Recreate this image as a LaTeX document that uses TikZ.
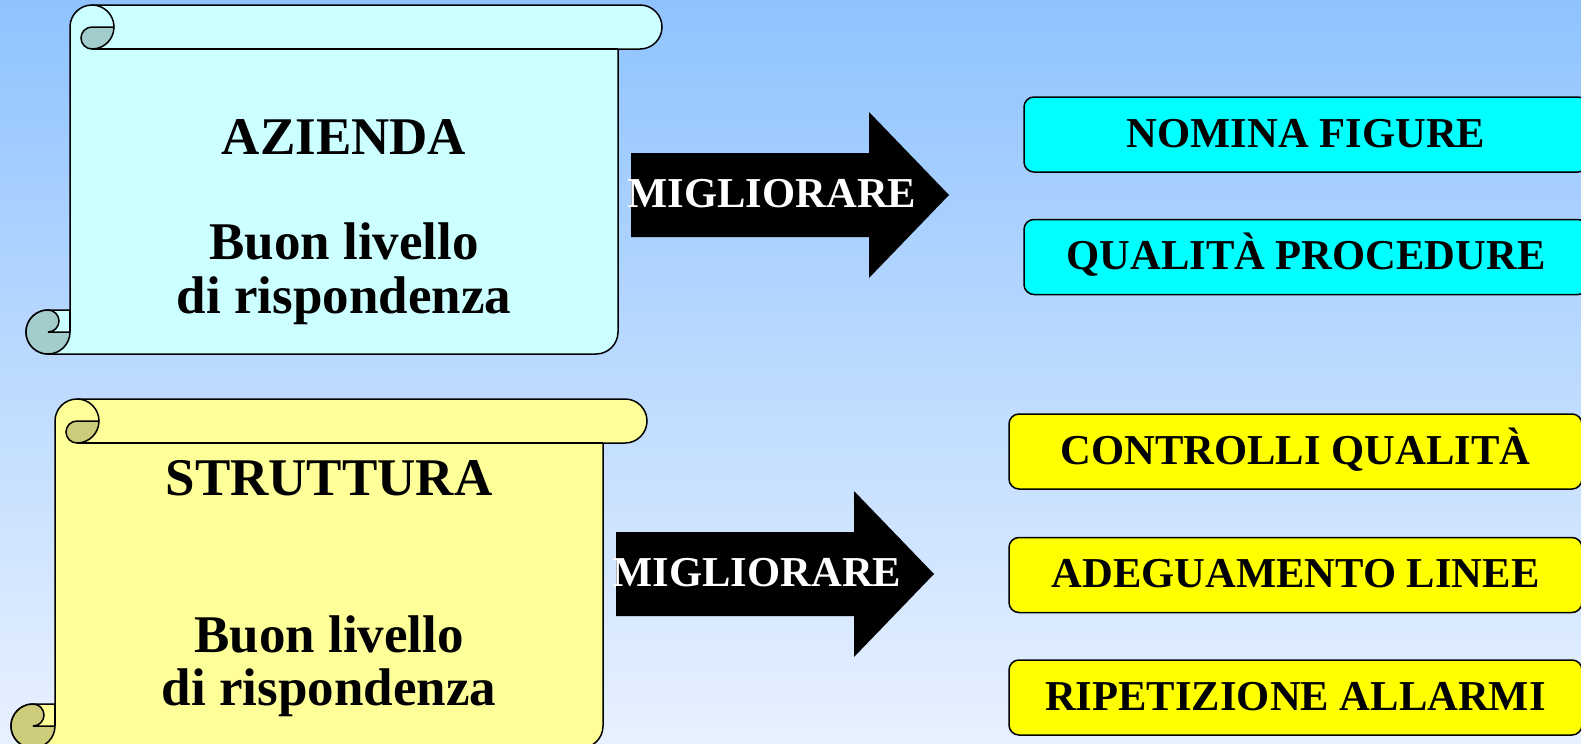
\documentclass[tikz,border=0pt]{standalone}
\usepackage{fontspec}
\setmainfont{Liberation Serif}
\usetikzlibrary{positioning}

\definecolor{skytop}{RGB}{143,195,255}
\definecolor{skybot}{RGB}{232,241,255}
\definecolor{paperblue}{RGB}{204,255,255}
\definecolor{rollblue}{RGB}{163,204,204}
\definecolor{paperyel}{RGB}{255,255,153}
\definecolor{rollyel}{RGB}{204,204,122}
\definecolor{boxcyan}{RGB}{0,255,255}
\definecolor{boxyel}{RGB}{255,255,0}

% scroll: #1 origin, #2 paper colour, #3 roll colour
\newcommand{\pergamena}[3]{%
\begin{scope}[shift={#1}]
\filldraw[fill=#2] (44,305) -- (44,22) arc[start angle=180,end angle=270,radius=22] -- (614,0)
  arc[start angle=-90,end angle=90,radius=22] -- (592,44) -- (592,327)
  arc[start angle=0,end angle=90,radius=22] -- (22,349)
  arc[start angle=90,end angle=270,radius=22] -- cycle;
%% rotolo alto
\filldraw[fill=#3] (88,22) arc[start angle=0,end angle=90,radius=22]
  arc[start angle=90,end angle=270,radius=11] -- cycle;
\draw (66,0) arc[start angle=-90,end angle=0,radius=22];
\draw (592,44) -- (66,44);
%% rotolo basso
\filldraw[fill=#3] (22,305) arc[start angle=-90,end angle=90,radius=11] -- (44,327)
  arc[start angle=0,end angle=270,radius=22] -- cycle;
\draw (44,305) -- (44,327);
\end{scope}}

\begin{document}
\begin{tikzpicture}[x=0.5pt,y=-0.5pt,line width=0.75pt,
  bigtext/.style={font=\fontsize{26.5}{27}\selectfont\bfseries},
  smalltext/.style={font=\fontsize{21.3}{22}\selectfont\bfseries},
  arrowtext/.style={smalltext,text=white,inner sep=0pt},
  goalbox/.style={draw,smalltext,rounded corners=5pt,minimum height=37.5pt,
    text height=15pt,text depth=2.5pt,inner sep=0pt},
  cyanbox/.style={goalbox,fill=boxcyan,minimum width=282pt},
  yelbox/.style={goalbox,fill=boxyel,minimum width=286.5pt},
  node distance=23pt]
\useasboundingbox (0,0) rectangle (1581,744);
\clip (0,0) rectangle (1581,744);
\shade[top color=skytop,bottom color=skybot] (0,0) rectangle (1581,744);

%% pergamene
\pergamena{(26,5)}{paperblue}{rollblue}
\pergamena{(11,399)}{paperyel}{rollyel}

\node[bigtext,anchor=base] (azienda) at (344,154) {AZIENDA};
\node[bigtext,anchor=base] (buon1) at (344,259) {Buon livello};
\node[bigtext,anchor=base] (risp1) at (344,313) {di rispondenza};

\node[bigtext,anchor=base] (struttura) at (329,495) {STRUTTURA};
\node[bigtext,anchor=base] (buon2) at (329,652) {Buon livello};
\node[bigtext,anchor=base] (risp2) at (329,705) {di rispondenza};

%% frecce
\fill (631,153) -- (869,153) -- (869,112) -- (949,195) -- (869,278) -- (869,237) -- (631,237) -- cycle;
\node[arrowtext,anchor=base] (migl1) at (772,207) {MIGLIORARE};
\fill (616,532) -- (854,532) -- (854,491) -- (934,574) -- (854,657) -- (854,616) -- (616,616) -- cycle;
\node[arrowtext,anchor=base] (migl2) at (757,586) {MIGLIORARE};

%% obiettivi
\node[cyanbox] (nomina) at (1306,134.5) {NOMINA FIGURE};
\node[cyanbox,below=of nomina] (procedure) {QUALITÀ PROCEDURE};

\node[yelbox] (controlli) at (1295.5,451.5) {CONTROLLI QUALITÀ};
\node[yelbox,below=23.5pt of controlli] (linee) {ADEGUAMENTO LINEE};
\node[yelbox,below=of linee] (allarmi) {RIPETIZIONE ALLARMI};
\end{tikzpicture}
\end{document}
